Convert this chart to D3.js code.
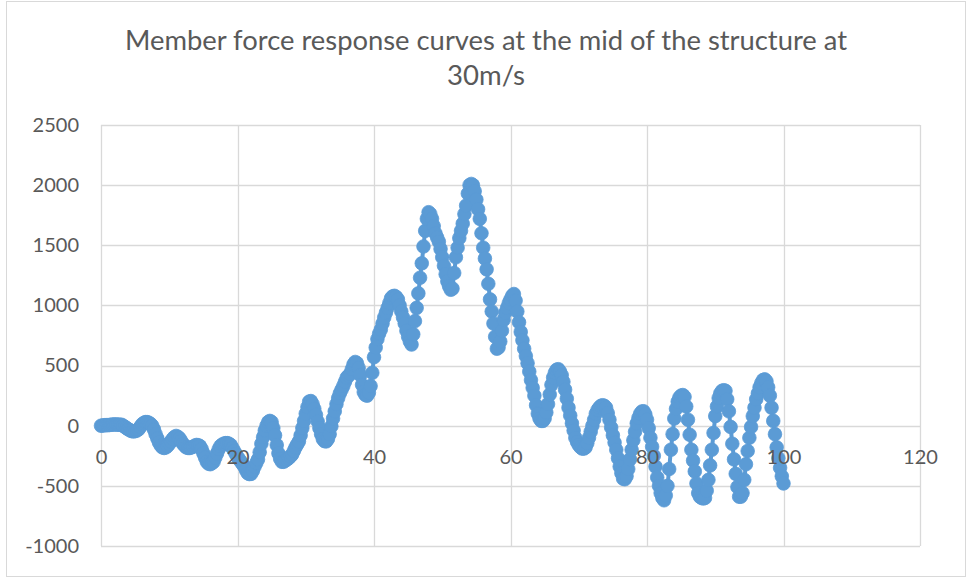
<!DOCTYPE html>
<html>
<head>
<meta charset="utf-8">
<script src="https://cdn.jsdelivr.net/npm/d3@7"></script>
<style>
  html, body { margin: 0; padding: 0; background: #fff; }
  svg { display: block; }
  text { font-family: Lato, "Open Sans", "Noto Sans", sans-serif; fill: #595959; }
</style>
</head>
<body>
<svg id="chart" width="969" height="581"></svg>
<script>
// ---- data ----
const titleLines = ["Member force response curves at the mid of the structure at", "30m/s"];
const xTicks = [0, 20, 40, 60, 80, 100, 120];
const yTicks = [-1000, -500, 0, 500, 1000, 1500, 2000, 2500];
const timeStep = 0.25; // sampling interval of the time axis
const force = [
  0,2,4,5,5,6,8,10,10,10,9,8,8,0,-10,-20,-30,-38,-45,-47,
  -45,-40,-30,-10,10,22,30,30,25,15,0,-30,-70,-105,-140,-165,-180,-185,-180,-168,
  -150,-130,-110,-95,-85,-92,-105,-128,-150,-166,-180,-185,-185,-180,-175,-166,-160,-162,-170,-195,
  -230,-265,-300,-315,-320,-312,-300,-265,-230,-195,-170,-157,-150,-145,-145,-150,-160,-185,-210,-235,
  -260,-280,-300,-320,-340,-370,-395,-402,-400,-375,-340,-310,-280,-220,-150,-95,-40,0,30,40,
  30,-20,-80,-160,-230,-275,-300,-300,-290,-280,-270,-255,-240,-210,-180,-155,-130,-80,-20,40,
  100,155,200,205,180,140,90,35,-20,-70,-110,-128,-130,-110,-70,-5,60,120,180,230,
  270,300,330,365,400,415,430,470,510,530,520,480,420,340,280,255,250,275,330,440,
  570,650,720,765,800,850,900,940,980,1020,1060,1075,1080,1070,1050,1000,950,900,850,790,
  740,700,675,760,870,980,1100,1230,1350,1490,1620,1720,1775,1760,1720,1660,1600,1565,1530,1470,
  1400,1330,1260,1200,1160,1130,1140,1270,1400,1480,1560,1620,1680,1760,1830,1930,2000,2010,2000,1950,
  1880,1800,1720,1600,1480,1390,1300,1180,1050,950,850,740,640,650,700,790,880,940,980,1020,
  1050,1080,1095,1040,950,860,780,710,640,580,520,450,380,315,250,170,100,60,40,40,
  60,110,180,260,340,400,440,465,470,450,420,365,300,225,150,85,20,-40,-100,-135,
  -160,-178,-190,-190,-180,-145,-100,-50,0,50,100,130,150,165,170,165,150,105,50,-15,
  -80,-140,-200,-270,-340,-395,-440,-445,-420,-360,-280,-200,-120,-50,20,65,100,118,120,95,
  50,-20,-100,-175,-250,-340,-430,-500,-560,-600,-620,-580,-500,-360,-200,-70,60,140,200,235,
  250,255,240,160,50,-75,-200,-290,-380,-480,-560,-590,-600,-605,-600,-540,-450,-330,-200,-60,
  80,160,230,270,290,295,290,220,120,-10,-150,-280,-400,-510,-590,-590,-560,-450,-320,-210,
  -100,-10,80,150,220,270,320,355,380,385,370,320,250,150,40,-70,-180,-270,-350,-420,
  -480
];
const time = force.map((_, i) => i * timeStep);

// ---- layout ----
const svg = d3.select("#chart");
const plot = { left: 101, right: 920, top: 125, bottom: 546 };
const x = d3.scaleLinear().domain([0, 120]).range([plot.left, plot.right]);
const y = d3.scaleLinear().domain([-1000, 2500]).range([plot.bottom, plot.top]);
const color = "#5b9bd5";
const fmt = d => String(d); // plain hyphen-minus like the reference

// chart border
svg.append("rect")
  .attr("x", 6.5).attr("y", 1.5).attr("width", 959).attr("height", 575)
  .attr("fill", "#fff").attr("stroke", "#d9d9d9").attr("stroke-width", 1);

// title
const title = svg.append("g");
title.append("text").attr("x", 486).attr("y", 50).attr("text-anchor", "middle")
  .style("font-size", "26px").attr("textLength", 722).attr("lengthAdjust", "spacingAndGlyphs")
  .text(titleLines[0]);
title.append("text").attr("x", 486).attr("y", 85).attr("text-anchor", "middle")
  .style("font-size", "26px").attr("textLength", 78).attr("lengthAdjust", "spacingAndGlyphs")
  .text(titleLines[1]);

// gridlines
const grid = svg.append("g").attr("stroke", "#d9d9d9").attr("stroke-width", 1.3);
grid.selectAll(".h").data(yTicks).join("line")
  .attr("x1", plot.left).attr("x2", plot.right)
  .attr("y1", d => Math.round(y(d)) + 0.5).attr("y2", d => Math.round(y(d)) + 0.5);
grid.selectAll(".v").data(xTicks).join("line")
  .attr("y1", plot.top).attr("y2", plot.bottom)
  .attr("x1", d => Math.round(x(d)) + 0.5).attr("x2", d => Math.round(x(d)) + 0.5);

// y axis labels (via d3 axis)
const yAxis = svg.append("g").attr("transform", `translate(${plot.left},0)`)
  .call(d3.axisLeft(y).tickValues(yTicks).tickSize(0).tickPadding(22).tickFormat(fmt));
yAxis.select(".domain").remove();
yAxis.selectAll("text").style("font-size", "20px").style("font-family", "Lato, sans-serif").attr("fill", "#595959");

// series: line + markers
const pts = time.map((t, i) => [t, force[i]]);
svg.append("path").datum(pts)
  .attr("fill", "none").attr("stroke", color).attr("stroke-width", 4)
  .attr("stroke-linejoin", "round")
  .attr("d", d3.line().x(d => x(d[0])).y(d => y(d[1])));
svg.append("g").selectAll("circle").data(pts).join("circle")
  .attr("cx", d => x(d[0])).attr("cy", d => y(d[1])).attr("r", 6.8)
  .attr("fill", color).attr("stroke", color).attr("stroke-width", 0.8);

// x axis labels at zero line (drawn on top of the series)
const xAxis = svg.append("g").attr("transform", `translate(0,${y(0)})`)
  .call(d3.axisBottom(x).tickValues(xTicks).tickSize(0).tickPadding(24).tickFormat(fmt));
xAxis.select(".domain").remove();
xAxis.selectAll("text").style("font-size", "20px").style("font-family", "Lato, sans-serif").attr("fill", "#595959");
</script>
</body>
</html>
